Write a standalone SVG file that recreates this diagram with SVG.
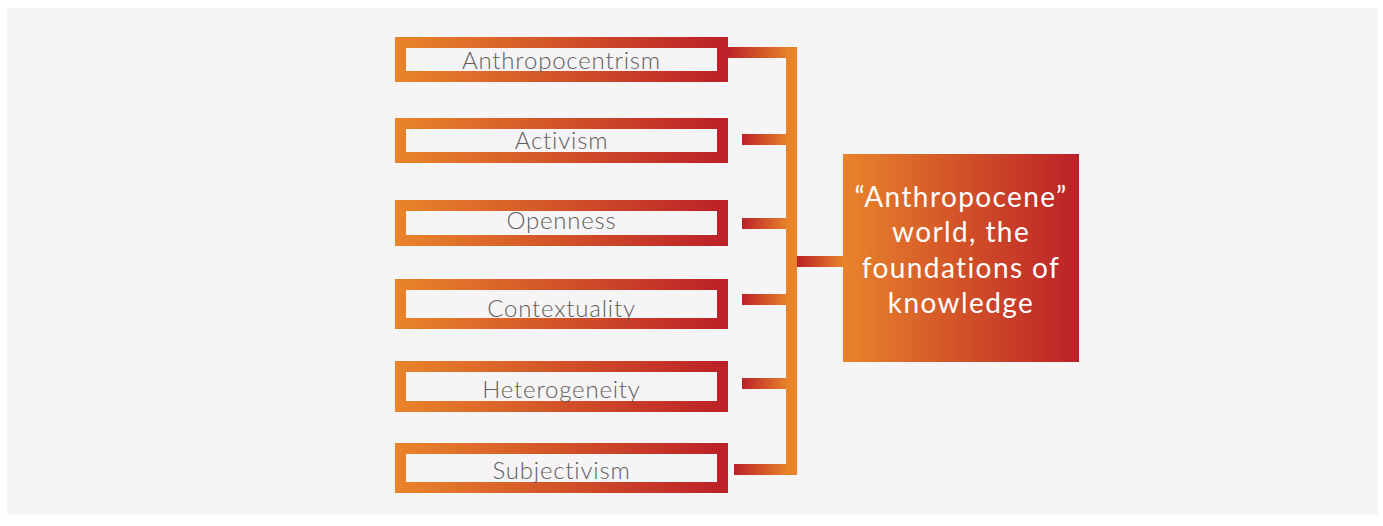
<svg xmlns="http://www.w3.org/2000/svg" width="1383" height="526" viewBox="0 0 1383 526">
  <defs>
    <linearGradient id="ob" x1="0" y1="0" x2="1" y2="0">
      <stop offset="0" stop-color="#e8832a"/>
      <stop offset="1" stop-color="#bc2127"/>
    </linearGradient>
    <linearGradient id="ro" x1="0" y1="0" x2="1" y2="0">
      <stop offset="0" stop-color="#bc2127"/>
      <stop offset="1" stop-color="#e8832a"/>
    </linearGradient>
    <style>
      .box { fill: #f6f4f5; stroke: url(#ob); stroke-width: 11; }
      .lbl { font-family: Lato, "Open Sans", sans-serif; font-weight: 300; font-size: 24px; letter-spacing: 0.8px; fill: #5e5e5e; text-anchor: middle; }
      .stub { fill: url(#ro); }
      .main { font-family: Lato, "Open Sans", sans-serif; font-weight: 400; font-size: 28px; letter-spacing: 1.4px; fill: #ffffff; text-anchor: middle; }
    </style>
  </defs>
  <rect x="0" y="0" width="1383" height="526" fill="#ffffff"/>
  <rect x="7" y="8" width="1371" height="507" fill="#f6f4f5"/>

  <g id="connectors">
    <rect class="stub" x="727" y="47" width="64" height="11"/>
    <rect class="stub" x="742" y="134" width="46" height="11"/>
    <rect class="stub" x="742" y="218" width="46" height="11"/>
    <rect class="stub" x="742" y="294" width="46" height="11"/>
    <rect class="stub" x="742" y="378" width="46" height="11"/>
    <rect class="stub" x="734" y="464" width="54" height="11"/>
    <rect x="786" y="47" width="11" height="428" fill="#e8832a"/>
    <rect class="stub" x="797" y="256" width="47" height="11"/>
  </g>

  <g id="n-anthropocentrism">
    <rect class="box" x="400.5" y="42.5" width="322" height="34"/>
    <text class="lbl" x="561.5" y="69">Anthropocentrism</text>
  </g>
  <g id="n-activism">
    <rect class="box" x="400.5" y="123.5" width="322" height="34"/>
    <text class="lbl" x="561.5" y="149">Activism</text>
  </g>
  <g id="n-openness">
    <rect class="box" x="400.5" y="205.5" width="322" height="35"/>
    <text class="lbl" x="561.5" y="229">Openness</text>
  </g>
  <g id="n-contextuality">
    <rect class="box" x="400.5" y="284.5" width="322" height="39"/>
    <text class="lbl" x="561.5" y="317">Contextuality</text>
  </g>
  <g id="n-heterogeneity">
    <rect class="box" x="400.5" y="366.5" width="322" height="40"/>
    <text class="lbl" x="561.5" y="398">Heterogeneity</text>
  </g>
  <g id="n-subjectivism">
    <rect class="box" x="400.5" y="448.5" width="322" height="39"/>
    <text class="lbl" x="561.5" y="479">Subjectivism</text>
  </g>

  <g id="n-anthropocene">
    <rect x="843" y="154" width="236" height="208" fill="url(#ob)"/>
    <text class="main" x="961" y="207">“Anthropocene”</text>
    <text class="main" x="961" y="242">world, the</text>
    <text class="main" x="961" y="278">foundations of</text>
    <text class="main" x="961" y="313">knowledge</text>
  </g>
</svg>
